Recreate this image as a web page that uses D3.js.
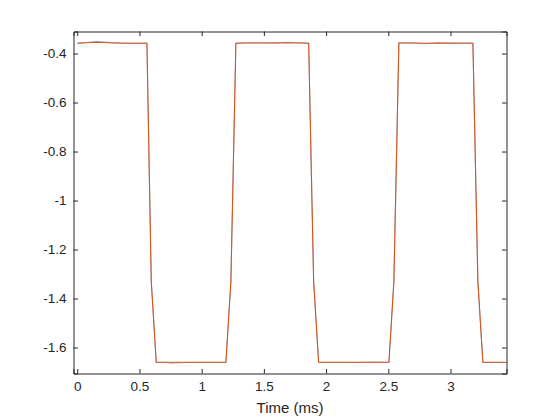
<!DOCTYPE html>
<html>
<head>
<meta charset="utf-8">
<script src="https://cdn.jsdelivr.net/npm/d3@7"></script>
<style>
  html, body { margin: 0; padding: 0; background: #ffffff; }
  svg { display: block; }
  text { font-family: "Liberation Sans", Arial, Helvetica, sans-serif; fill: #262626; }
</style>
</head>
<body>
<svg id="chart" width="560" height="420"></svg>
<script>
// ---- data ----
const timeMs = [0, 0.08, 0.15, 0.25, 0.35, 0.45, 0.56, 0.595, 0.635, 0.70, 0.75, 0.9, 1.05, 1.195, 1.235, 1.275, 1.35, 1.45, 1.55, 1.7, 1.86, 1.90, 1.94, 2.1, 2.25, 2.4, 2.505, 2.545, 2.585, 2.7, 2.8, 2.9, 3.05, 3.18, 3.22, 3.26, 3.45];
const ch1 = [-0.357, -0.355, -0.350, -0.354, -0.357, -0.358, -0.357, -1.33, -1.661, -1.660, -1.664, -1.661, -1.661, -1.661, -1.33, -0.357, -0.356, -0.355, -0.356, -0.354, -0.357, -1.33, -1.661, -1.661, -1.661, -1.659, -1.661, -1.33, -0.356, -0.357, -0.360, -0.357, -0.357, -0.357, -1.33, -1.661, -1.661];
const ch2 = [-0.358, -0.356, -0.354, -0.356, -0.358, -0.358, -0.358, -1.33, -1.660, -1.660, -1.660, -1.660, -1.660, -1.660, -1.33, -0.358, -0.357, -0.357, -0.357, -0.356, -0.358, -1.33, -1.660, -1.660, -1.660, -1.660, -1.660, -1.33, -0.357, -0.357, -0.358, -0.357, -0.358, -0.358, -1.33, -1.660, -1.660];
const xTicks = [0, 0.5, 1, 1.5, 2, 2.5, 3];
const yTicks = [-0.4, -0.6, -0.8, -1, -1.2, -1.4, -1.6];
const xLabel = "Time (ms)";
const xDomain = [-0.03, 3.45];
const yDomain = [-1.706, -0.31];

// ---- layout ----
const svg = d3.select("#chart");
const L = 73.5, R = 506.5, T = 31.5, B = 373.5;
const x = d3.scaleLinear().domain(xDomain).range([L, R]);
const y = d3.scaleLinear().domain(yDomain).range([B, T]);
const tickLen = 4.5;

svg.append("rect").attr("x", L).attr("y", T).attr("width", R - L).attr("height", B - T).attr("fill", "#ffffff");

// lines
const line = d3.line().x((d, i) => x(timeMs[i])).y(d => y(d));
svg.append("path").datum(ch1).attr("d", line).attr("fill", "none")
  .attr("stroke", "#0072BD").attr("stroke-width", 0.6).attr("stroke-opacity", 0.8);
svg.append("path").datum(ch2).attr("d", line).attr("fill", "none")
  .attr("stroke", "#D95319").attr("stroke-width", 1.1);

// axes (MATLAB style: inward ticks, box)
const fmt = d => String(d);
const gB = svg.append("g").attr("transform", `translate(0,${B})`)
  .call(d3.axisBottom(x).tickValues(xTicks).tickSize(-tickLen).tickPadding(8).tickFormat(fmt));
const gT = svg.append("g").attr("transform", `translate(0,${T})`)
  .call(d3.axisTop(x).tickValues(xTicks).tickSize(-tickLen).tickFormat(""));
const gL = svg.append("g").attr("transform", `translate(${L},0)`)
  .call(d3.axisLeft(y).tickValues(yTicks).tickSize(-tickLen).tickPadding(7).tickFormat(fmt));
const gR = svg.append("g").attr("transform", `translate(${R},0)`)
  .call(d3.axisRight(y).tickValues(yTicks).tickSize(-tickLen).tickFormat(""));

[gB, gT, gL, gR].forEach(g => {
  g.select(".domain").attr("stroke", "#262626").attr("stroke-width", 1);
  g.selectAll(".tick line").attr("stroke", "#262626").attr("stroke-width", 1);
  g.selectAll(".tick text").attr("font-size", 13.5).attr("fill", "#262626")
    .attr("font-family", "'Liberation Sans', Arial, sans-serif");
});

svg.append("text").attr("x", (L + R) / 2).attr("y", 413)
  .attr("text-anchor", "middle").attr("font-size", 15).text(xLabel);
</script>
</body>
</html>
